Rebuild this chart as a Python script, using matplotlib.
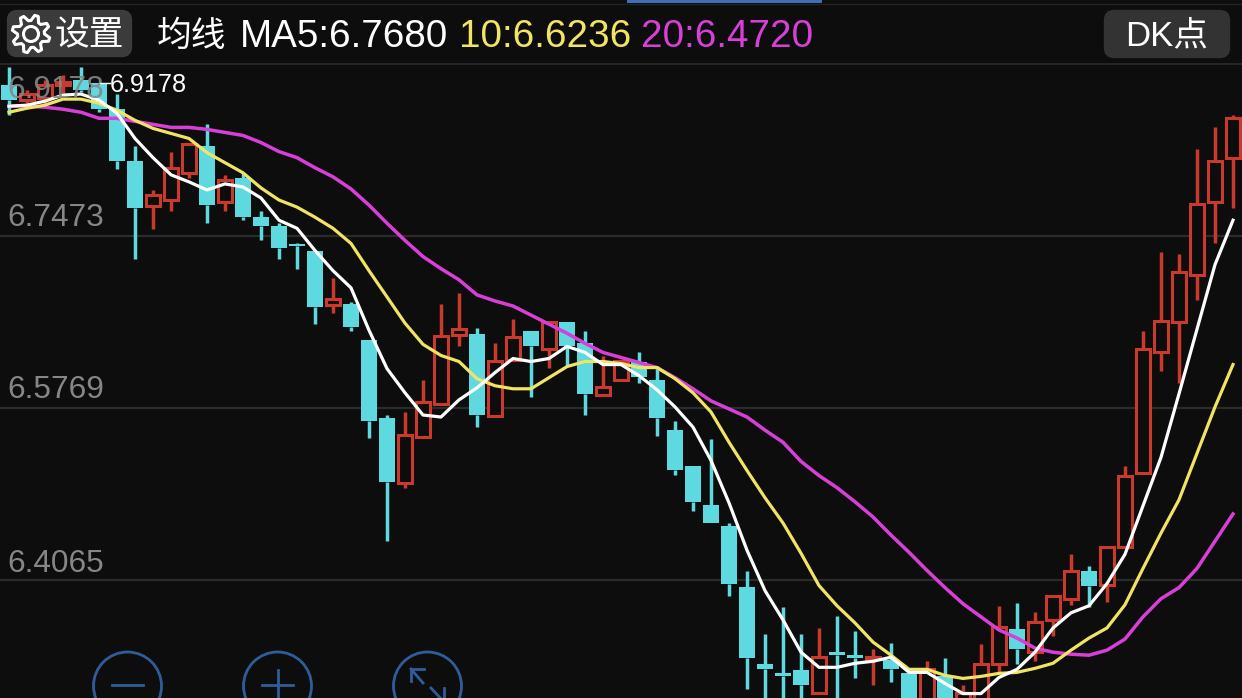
import numpy as np
import matplotlib
matplotlib.use('Agg')
import matplotlib.pyplot as plt
from matplotlib.patches import Circle, FancyBboxPatch, Polygon, Rectangle

plt.rcParams['font.family'] = ['Liberation Sans', 'Noto Sans CJK SC', 'DejaVu Sans']

# daily candles
opens = [6.897, 6.882, 6.884, 6.897, 6.902, 6.899, 6.873, 6.822, 6.777, 6.783,
         6.810, 6.837, 6.781, 6.805, 6.766, 6.757, 6.739, 6.733, 6.679, 6.680,
         6.644, 6.567, 6.503, 6.548, 6.581, 6.649, 6.650, 6.569, 6.625, 6.653,
         6.635, 6.662, 6.641, 6.590, 6.605, 6.623, 6.605, 6.555, 6.519, 6.481,
         6.460, 6.400, 6.323, 6.314, 6.317, 6.295, 6.335, 6.332, 6.328, 6.327,
         6.314, 6.272, 6.311, 6.272, 6.287, 6.323, 6.358, 6.335, 6.367, 6.388,
         6.415, 6.402, 6.439, 6.513, 6.632, 6.662, 6.709, 6.781, 6.825]
closes = [6.882, 6.888, 6.897, 6.900, 6.892, 6.873, 6.822, 6.775, 6.788, 6.815,
          6.839, 6.778, 6.803, 6.766, 6.757, 6.735, 6.737, 6.677, 6.685, 6.657,
          6.564, 6.504, 6.550, 6.583, 6.648, 6.655, 6.570, 6.624, 6.647, 6.638,
          6.662, 6.638, 6.591, 6.598, 6.624, 6.608, 6.567, 6.516, 6.484, 6.463,
          6.403, 6.329, 6.318, 6.311, 6.302, 6.330, 6.332, 6.329, 6.330, 6.318,
          6.272, 6.318, 6.272, 6.295, 6.323, 6.360, 6.338, 6.365, 6.391, 6.415,
          6.401, 6.439, 6.510, 6.635, 6.663, 6.712, 6.779, 6.822, 6.864]
highs = [6.915, 6.892, 6.902, 6.907, 6.915, 6.899, 6.888, 6.837, 6.793, 6.831,
         6.839, 6.858, 6.808, 6.810, 6.772, 6.760, 6.740, 6.733, 6.706, 6.682,
         6.644, 6.570, 6.573, 6.605, 6.680, 6.691, 6.656, 6.641, 6.665, 6.653,
         6.662, 6.662, 6.653, 6.628, 6.624, 6.632, 6.619, 6.564, 6.519, 6.546,
         6.463, 6.415, 6.353, 6.380, 6.353, 6.359, 6.371, 6.356, 6.338, 6.344,
         6.314, 6.326, 6.329, 6.302, 6.343, 6.381, 6.384, 6.375, 6.391, 6.432,
         6.420, 6.439, 6.519, 6.653, 6.732, 6.730, 6.834, 6.855, 6.867]
lows = [6.867, 6.877, 6.877, 6.889, 6.890, 6.870, 6.814, 6.725, 6.754, 6.772,
        6.805, 6.760, 6.772, 6.763, 6.743, 6.725, 6.715, 6.660, 6.671, 6.653,
        6.547, 6.445, 6.498, 6.547, 6.581, 6.638, 6.558, 6.568, 6.624, 6.588,
        6.617, 6.620, 6.570, 6.590, 6.605, 6.602, 6.549, 6.511, 6.475, 6.463,
        6.391, 6.299, 6.267, 6.267, 6.267, 6.294, 6.267, 6.309, 6.302, 6.305,
        6.265, 6.265, 6.265, 6.265, 6.272, 6.314, 6.323, 6.326, 6.351, 6.382,
        6.380, 6.385, 6.439, 6.513, 6.614, 6.602, 6.684, 6.740, 6.775]

ma5 = [6.876, 6.877, 6.881, 6.887, 6.888, 6.882, 6.869, 6.844, 6.825, 6.808,
       6.801, 6.793, 6.799, 6.796, 6.785, 6.763, 6.755, 6.733, 6.713, 6.696,
       6.654, 6.616, 6.592, 6.570, 6.568, 6.585, 6.597, 6.612, 6.626, 6.623,
       6.626, 6.638, 6.632, 6.620, 6.620, 6.609, 6.595, 6.578, 6.558, 6.525,
       6.483, 6.436, 6.396, 6.367, 6.335, 6.320, 6.320, 6.324, 6.326, 6.330,
       6.315, 6.315, 6.304, 6.294, 6.294, 6.310, 6.318, 6.335, 6.359, 6.374,
       6.381, 6.403, 6.432, 6.480, 6.528, 6.591, 6.655, 6.719, 6.763]
ma10 = [6.870, 6.874, 6.877, 6.883, 6.883, 6.879, 6.872, 6.862, 6.854, 6.849,
        6.844, 6.830, 6.820, 6.810, 6.795, 6.783, 6.776, 6.766, 6.755, 6.740,
        6.713, 6.687, 6.661, 6.640, 6.629, 6.623, 6.606, 6.599, 6.596, 6.596,
        6.607, 6.618, 6.623, 6.623, 6.621, 6.617, 6.617, 6.606, 6.592, 6.573,
        6.543, 6.515, 6.488, 6.463, 6.433, 6.401, 6.381, 6.364, 6.345, 6.332,
        6.318, 6.318, 6.312, 6.309, 6.311, 6.314, 6.315, 6.319, 6.324, 6.337,
        6.349, 6.359, 6.382, 6.418, 6.453, 6.486, 6.532, 6.578, 6.620]
ma20 = [6.876, 6.876, 6.875, 6.873, 6.870, 6.864, 6.864, 6.861, 6.858, 6.855,
        6.855, 6.853, 6.850, 6.847, 6.840, 6.831, 6.825, 6.815, 6.806, 6.794,
        6.778, 6.760, 6.743, 6.727, 6.715, 6.704, 6.689, 6.683, 6.678, 6.669,
        6.660, 6.651, 6.641, 6.632, 6.627, 6.622, 6.617, 6.607, 6.596, 6.584,
        6.576, 6.568, 6.555, 6.543, 6.524, 6.510, 6.498, 6.484, 6.469, 6.451,
        6.434, 6.416, 6.399, 6.383, 6.370, 6.357, 6.349, 6.339, 6.335, 6.333,
        6.332, 6.337, 6.348, 6.370, 6.388, 6.399, 6.418, 6.445, 6.472]

grid_values = [6.7473, 6.5769, 6.4065]
grid_labels = ['6.7473', '6.5769', '6.4065']
top_value = 6.9178

BG = '#0d0d0d'
RED = '#c9392c'
CYAN = '#5fd9e0'
WHITE = '#ffffff'
YELLOW = '#f2e463'
MAGENTA = '#d83fd8'
GRAY = '#868686'
BLUE = '#2f5d99'

W, H = 1242, 698
fig = plt.figure(figsize=(W / 100, H / 100), dpi=100, facecolor=BG)

# chart area, from the line under the header to the bottom of the screen
ax = fig.add_axes([0, 0, 1, (H - 64) / H], facecolor=BG)
ax.set_xlim(-0.5, 68.5)
ax.set_ylim(6.2896, top_value)
ax.axis('off')

for v in grid_values:
    ax.axhline(v, color='#2b2b2b', lw=1.6, zorder=1)

# candles
for i in range(len(opens)):
    up = closes[i] >= opens[i]
    top = max(opens[i], closes[i])
    bottom = min(opens[i], closes[i])
    color = RED if up else CYAN
    ax.vlines(i, top, highs[i], color=color, lw=2.5, zorder=2)
    ax.vlines(i, lows[i], bottom, color=color, lw=2.5, zorder=2)
    if up:
        ax.bar(i, top - bottom, bottom=bottom, width=0.74, facecolor=BG,
               edgecolor=color, linewidth=2.2, zorder=3)
    else:
        ax.bar(i, top - bottom, bottom=bottom, width=0.84, facecolor=color,
               edgecolor=color, linewidth=0, zorder=3)

x = np.arange(len(ma5))
ax.plot(x, ma20, color=MAGENTA, lw=2.5, zorder=4)
ax.plot(x, ma10, color=YELLOW, lw=2.3, zorder=5)
ax.plot(x, ma5, color=WHITE, lw=2.3, zorder=6)

# overlay in pixels for the app chrome
ui = fig.add_axes([0, 0, 1, 1], facecolor='none')
ui.set_xlim(0, W)
ui.set_ylim(H, 0)
ui.axis('off')

ui.plot([0, W], [64, 64], color='#2b2b2b', lw=1.2)
ui.plot([0, W], [3.5, 3.5], color='#222222', lw=1)
ui.add_patch(Rectangle((627, 0), 195, 3, color='#3f6fb5', lw=0))

ui.add_patch(FancyBboxPatch((11, 14), 117, 39, boxstyle='round,pad=0,rounding_size=6',
                            mutation_aspect=1, facecolor='#3b3b3b', edgecolor='#3b3b3b', lw=6))
ui.add_patch(FancyBboxPatch((1108, 14), 118, 40, boxstyle='round,pad=0,rounding_size=6',
                            facecolor='#333333', edgecolor='#333333', lw=6))

# gear icon
teeth = 8
ang = np.linspace(0, 2 * np.pi, teeth * 4, endpoint=False) + np.pi / 8 - np.pi / 16
rad = np.tile([19, 19, 13.5, 13.5], teeth)
ui.add_patch(Polygon(np.c_[31 + rad * np.cos(ang), 34 + rad * np.sin(ang)], closed=True,
                     fill=False, edgecolor=WHITE, lw=2.2, joinstyle='round'))
ui.add_patch(Circle((31, 34), 7.5, fill=False, edgecolor=WHITE, lw=2.2))

ui.text(55, 36, '设置', color=WHITE, fontsize=25, va='center', ha='left', family='Noto Sans CJK SC')
ui.text(157, 36, '均线', color=WHITE, fontsize=25, va='center', ha='left', family='Noto Sans CJK SC')
ui.text(240, 37, 'MA5:6.7680', color=WHITE, fontsize=27.8, va='center', ha='left')
ui.text(459, 37, '10:6.6236', color=YELLOW, fontsize=27.8, va='center', ha='left')
ui.text(641, 37, '20:6.4720', color=MAGENTA, fontsize=27.8, va='center', ha='left')
ui.text(1125, 36, 'DK点', color=WHITE, fontsize=25, va='center', ha='left')

# price labels sit just above their grid lines
ui.text(7, 90, '6.9178', color=GRAY, fontsize=22.8, va='center', ha='left', alpha=0.9, zorder=8)
for label, ypx in zip(grid_labels, [218.5, 390.5, 563.5]):
    ui.text(7, ypx, label, color=GRAY, fontsize=22.8, va='center', ha='left', zorder=8)
ui.plot([100, 110], [83, 83], color=WHITE, lw=1, zorder=8)
ui.text(110, 85, '6.9178', color=WHITE, fontsize=18.2, va='center', ha='left', zorder=8)

# zoom buttons, cut by the bottom edge
for cx in [127.5, 277.5, 427.5]:
    ui.add_patch(Circle((cx, 686), 34, fill=False, edgecolor=BLUE, lw=2))
ui.plot([112, 143], [685, 685], color=BLUE, lw=2)
ui.plot([262, 293], [685, 685], color=BLUE, lw=2)
ui.plot([277.5, 277.5], [670, 700], color=BLUE, lw=2)
ui.plot([411, 423], [669, 683], color=BLUE, lw=2)
ui.plot([411, 411, 424], [681, 669, 669], color=BLUE, lw=2)
ui.plot([431, 444], [688, 702], color=BLUE, lw=2)
ui.plot([444, 444], [688, 702], color=BLUE, lw=2)

fig.savefig('out.png', dpi=100, facecolor=BG)
